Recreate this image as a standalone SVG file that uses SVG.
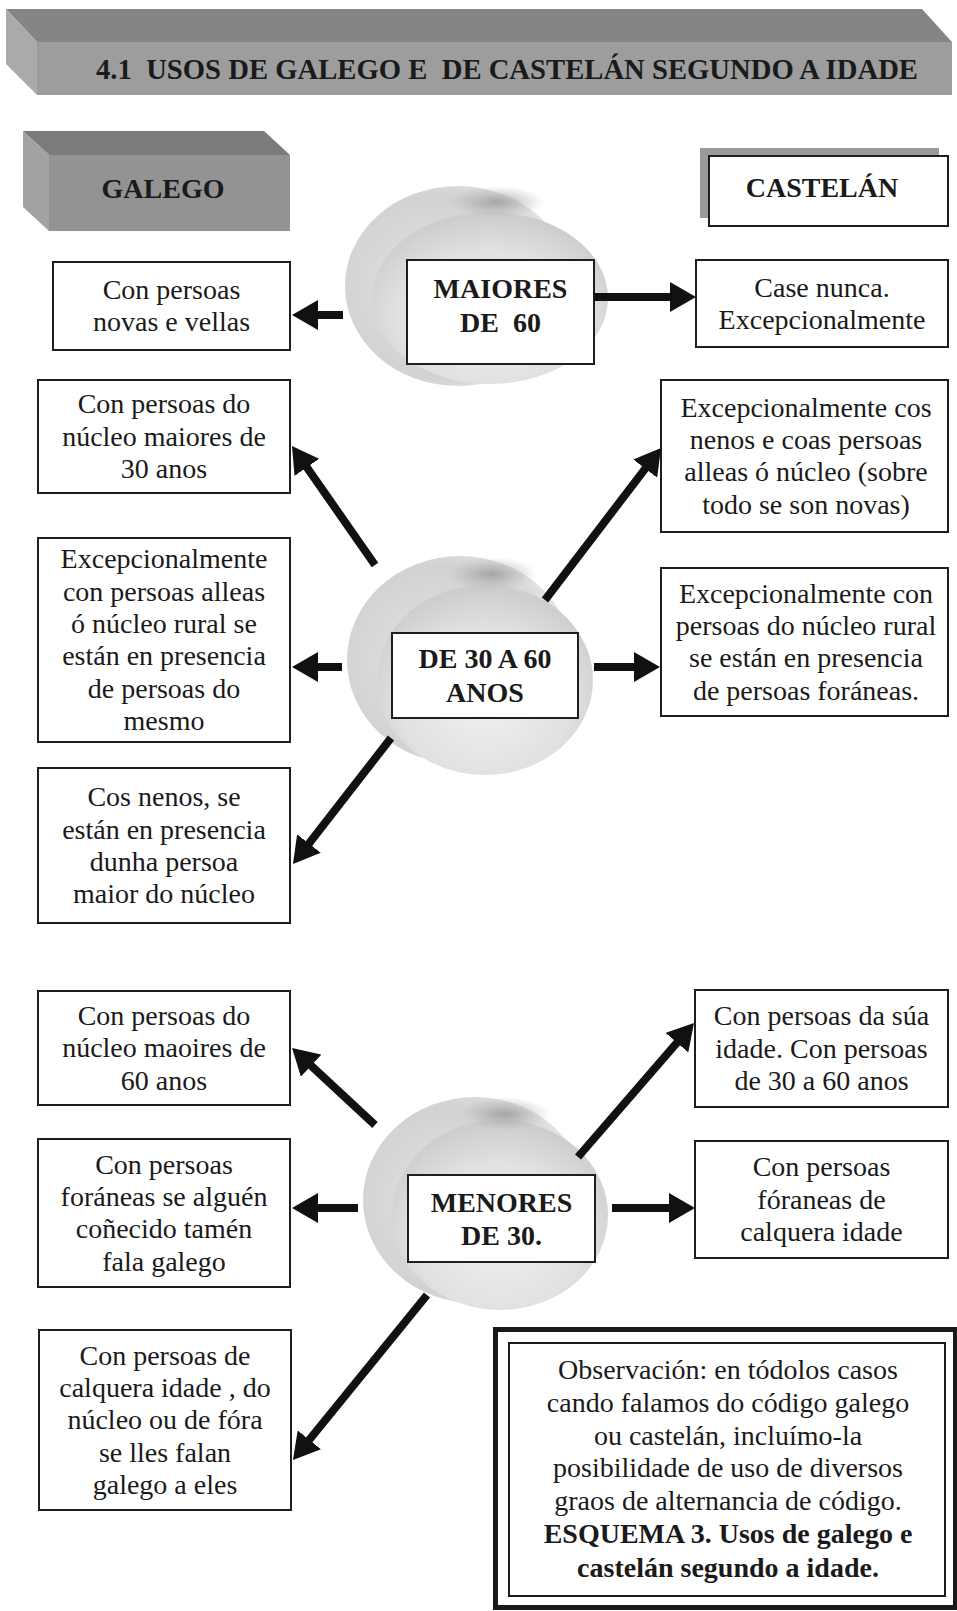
<svg xmlns="http://www.w3.org/2000/svg" width="957" height="1611" viewBox="0 0 957 1611">
<style>
.t{font-family:"Liberation Serif","Times New Roman",serif;font-size:28px;fill:#1a1a1a;text-anchor:middle}
.b{font-weight:bold}
.box{fill:#fff;stroke:#1e1e1e;stroke-width:2}
.arr{stroke:#111;stroke-width:8;fill:none;marker-end:url(#ah)}
.so{fill:url(#gOuter)}
.si{fill:url(#gInner)}
.sp{fill:url(#gPatch)}
</style>
<defs>
<marker id="ah" viewBox="0 0 26 30" refX="12" refY="15" markerWidth="26" markerHeight="30" markerUnits="userSpaceOnUse" orient="auto">
<path d="M0,0 L26,15 L0,30 Z" fill="#111"/>
</marker>
<radialGradient id="gOuter" cx="0.4" cy="0.5" r="0.6">
<stop offset="0" stop-color="#e4e4e4"/>
<stop offset="0.75" stop-color="#d2d2d2"/>
<stop offset="1" stop-color="#e6e6e6"/>
</radialGradient>
<radialGradient id="gInner" cx="0.5" cy="0.62" r="0.6">
<stop offset="0" stop-color="#f1f1f1"/>
<stop offset="0.65" stop-color="#e1e1e1"/>
<stop offset="1" stop-color="#cdcdcd"/>
</radialGradient>
<radialGradient id="gPatch" cx="0.5" cy="0.5" r="0.5">
<stop offset="0" stop-color="#9c9c9c" stop-opacity="0.85"/>
<stop offset="1" stop-color="#b0b0b0" stop-opacity="0"/>
</radialGradient>
</defs>
<rect width="957" height="1611" fill="#fff"/>

<g id="title">
<polygon points="6,9 922,9 952,42 37,42" fill="#858585"/>
<polygon points="6,9 37,42 37,95 6,64" fill="#aaaaaa"/>
<rect x="37" y="42" width="915" height="53" fill="#9d9d9d"/>
<text class="t b" x="507" y="79" style="font-size:29.5px;white-space:pre" textLength="822" lengthAdjust="spacingAndGlyphs">4.1  USOS DE GALEGO E  DE CASTELÁN SEGUNDO A IDADE</text>
</g>

<g id="galego">
<polygon points="23,131 264,131 290,155 49,155" fill="#7b7b7b"/>
<polygon points="23,131 49,155 49,231 23,207" fill="#a2a2a2"/>
<rect x="49" y="155" width="241" height="76" fill="#939393"/>
<text class="t b" x="163" y="198">GALEGO</text>
</g>

<g id="castelan">
<rect x="700" y="148" width="239" height="70" fill="#9a9a9a"/>
<rect class="box" x="709" y="156" width="239" height="70"/>
<text class="t b" x="822" y="197">CASTELÁN</text>
</g>

<!-- Row 1 -->
<g id="sphere1">
<ellipse class="so" cx="458" cy="286" rx="113" ry="100"/>
<ellipse class="si" cx="490" cy="298" rx="118" ry="86"/>
<ellipse class="sp" cx="497" cy="202" rx="48" ry="16"/>
</g>
<g id="maiores60">
<rect class="box" x="407" y="260" width="187" height="104"/>
<text class="t b" x="500.5" y="298">MAIORES</text>
<text class="t b" x="500.5" y="332" style="white-space:pre">DE  60</text>
</g>
<g id="g-novas-vellas">
<rect class="box" x="53" y="262" width="237" height="88"/>
<text class="t" x="171.5" y="299">Con persoas</text>
<text class="t" x="171.5" y="331">novas e vellas</text>
</g>
<g id="c-case-nunca">
<rect class="box" x="696" y="260" width="252" height="87"/>
<text class="t" x="822" y="297">Case nunca.</text>
<text class="t" x="822" y="329">Excepcionalmente</text>
</g>

<!-- Row 2 -->
<g id="sphere2">
<ellipse class="so" cx="460" cy="660" rx="113" ry="104"/>
<ellipse class="si" cx="485" cy="680" rx="108" ry="95"/>
<ellipse class="sp" cx="492" cy="574" rx="45" ry="17"/>
</g>
<g id="de30a60">
<rect class="box" x="392" y="633" width="186" height="85"/>
<text class="t b" x="485" y="668">DE 30 A 60</text>
<text class="t b" x="485" y="702">ANOS</text>
</g>
<g id="g-maiores30">
<rect class="box" x="38" y="380" width="252" height="113"/>
<text class="t" x="164" y="413">Con persoas do</text>
<text class="t" x="164" y="445.5">núcleo maiores de</text>
<text class="t" x="164" y="478">30 anos</text>
</g>
<g id="g-alleas">
<rect class="box" x="38" y="538" width="252" height="204"/>
<text class="t" x="164" y="568">Excepcionalmente</text>
<text class="t" x="164" y="600.5">con persoas alleas</text>
<text class="t" x="164" y="633">ó núcleo rural se</text>
<text class="t" x="164" y="665">están en presencia</text>
<text class="t" x="164" y="697.5">de persoas do</text>
<text class="t" x="164" y="730">mesmo</text>
</g>
<g id="g-nenos">
<rect class="box" x="38" y="768" width="252" height="155"/>
<text class="t" x="164" y="806">Cos nenos, se</text>
<text class="t" x="164" y="838.5">están en presencia</text>
<text class="t" x="164" y="871">dunha persoa</text>
<text class="t" x="164" y="903">maior do núcleo</text>
</g>
<g id="c-nenos">
<rect class="box" x="661" y="380" width="287" height="152"/>
<text class="t" x="806" y="416.5">Excepcionalmente cos</text>
<text class="t" x="806" y="449">nenos e coas persoas</text>
<text class="t" x="806" y="481">alleas ó núcleo (sobre</text>
<text class="t" x="806" y="513.5">todo se son novas)</text>
</g>
<g id="c-rural">
<rect class="box" x="661" y="568" width="287" height="148"/>
<text class="t" x="806" y="602.5">Excepcionalmente con</text>
<text class="t" x="806" y="635">persoas do núcleo rural</text>
<text class="t" x="806" y="667">se están en presencia</text>
<text class="t" x="806" y="699.5">de persoas foráneas.</text>
</g>

<!-- Row 3 -->
<g id="sphere3">
<ellipse class="so" cx="475" cy="1200" rx="112" ry="103"/>
<ellipse class="si" cx="500" cy="1215" rx="108" ry="95"/>
<ellipse class="sp" cx="505" cy="1114" rx="45" ry="17"/>
</g>
<g id="menores30">
<rect class="box" x="408" y="1175" width="187" height="87"/>
<text class="t b" x="501.5" y="1212">MENORES</text>
<text class="t b" x="501.5" y="1245">DE 30.</text>
</g>
<g id="g-maoires60">
<rect class="box" x="38" y="991" width="252" height="114"/>
<text class="t" x="164" y="1025">Con persoas do</text>
<text class="t" x="164" y="1057">núcleo maoires de</text>
<text class="t" x="164" y="1089.5">60 anos</text>
</g>
<g id="g-foraneas">
<rect class="box" x="38" y="1139" width="252" height="148"/>
<text class="t" x="164" y="1173.5">Con persoas</text>
<text class="t" x="164" y="1206">foráneas se alguén</text>
<text class="t" x="164" y="1238">coñecido tamén</text>
<text class="t" x="164" y="1270.5">fala galego</text>
</g>
<g id="g-calquera">
<rect class="box" x="39" y="1330" width="252" height="180"/>
<text class="t" x="165" y="1364.5">Con persoas de</text>
<text class="t" x="165" y="1397">calquera idade , do</text>
<text class="t" x="165" y="1429">núcleo ou de fóra</text>
<text class="t" x="165" y="1461.5">se lles falan</text>
<text class="t" x="165" y="1494">galego a eles</text>
</g>
<g id="c-idade">
<rect class="box" x="695" y="990" width="253" height="117"/>
<text class="t" x="821.5" y="1025">Con persoas da súa</text>
<text class="t" x="821.5" y="1057.5">idade. Con persoas</text>
<text class="t" x="821.5" y="1090">de 30 a 60 anos</text>
</g>
<g id="c-foraneas">
<rect class="box" x="695" y="1141" width="253" height="117"/>
<text class="t" x="821.5" y="1176">Con persoas</text>
<text class="t" x="821.5" y="1208.5">fóraneas de</text>
<text class="t" x="821.5" y="1241">calquera idade</text>
</g>

<g id="observacion">
<rect x="495.5" y="1329.5" width="460" height="278" fill="#fff" stroke="#1a1a1a" stroke-width="5"/>
<rect x="509" y="1343" width="436" height="253" fill="none" stroke="#1a1a1a" stroke-width="2"/>
<text class="t" x="728" y="1379">Observación: en tódolos casos</text>
<text class="t" x="728" y="1412">cando falamos do código galego</text>
<text class="t" x="728" y="1445">ou castelán, incluímo-la</text>
<text class="t" x="728" y="1477">posibilidade de uso de diversos</text>
<text class="t" x="728" y="1510">graos de alternancia de código.</text>
<text class="t b" x="728" y="1543">ESQUEMA 3. Usos de galego e</text>
<text class="t b" x="728" y="1577">castelán segundo a idade.</text>
</g>

<g id="connectors">
<line class="arr" x1="343" y1="315" x2="306" y2="315"/>
<line class="arr" x1="594" y1="297" x2="682" y2="297"/>
<line class="arr" x1="375" y1="565" x2="300" y2="457.5"/>
<line class="arr" x1="545" y1="600" x2="652.5" y2="459.1"/>
<line class="arr" x1="342" y1="667" x2="306" y2="667"/>
<line class="arr" x1="594" y1="667" x2="646" y2="667"/>
<line class="arr" x1="391" y1="738" x2="301.6" y2="853"/>
<line class="arr" x1="375" y1="1125" x2="302.3" y2="1057.5"/>
<line class="arr" x1="578" y1="1157" x2="684.8" y2="1033.6"/>
<line class="arr" x1="358" y1="1208" x2="306" y2="1208"/>
<line class="arr" x1="612" y1="1208" x2="681" y2="1208"/>
<line class="arr" x1="427" y1="1295" x2="301.8" y2="1449.1"/>
</g>
</svg>
